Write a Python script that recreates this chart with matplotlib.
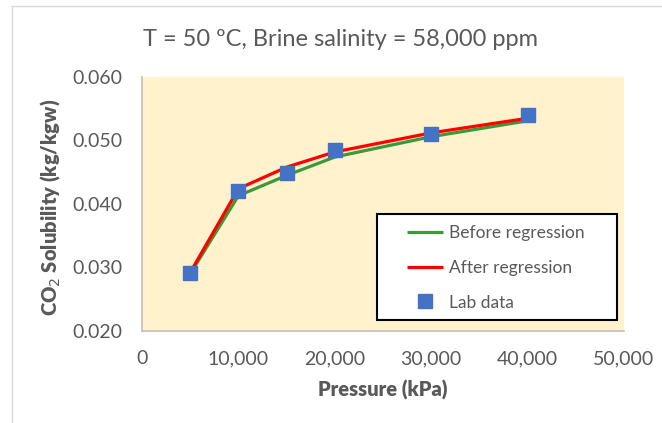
"""
CO2 solubility vs pressure at T = 50 C, brine salinity 58,000 ppm.
Recreated chart: model before/after regression plus lab data.
"""

import matplotlib.pyplot as plt
from matplotlib.lines import Line2D
from matplotlib.patches import Rectangle
from matplotlib.ticker import FuncFormatter

# Data
pressure_kpa = [5000, 10000, 15000, 20000, 30000, 40000]
before_regression = [0.0290, 0.0413, 0.0445, 0.0474, 0.0506, 0.0531]
after_regression = [0.0292, 0.0424, 0.0458, 0.0482, 0.0512, 0.0535]
lab_data = [0.0292, 0.0421, 0.0449, 0.0485, 0.0510, 0.0540]

x_ticks = [0, 10000, 20000, 30000, 40000, 50000]
y_ticks = [0.020, 0.030, 0.040, 0.050, 0.060]

GRAY_TEXT = "#595959"
plt.rcParams["font.family"] = ["Lato", "DejaVu Sans"]

fig = plt.figure(figsize=(6.62, 4.23), dpi=100)
ax = fig.add_axes([142 / 662, 1 - 331 / 423, 482 / 662, 254 / 423])
ax.set_facecolor("#FFF2CC")

ax.plot(pressure_kpa, before_regression, color="#3A9A3A", lw=2.3,
        label="Before regression", solid_capstyle="butt")
ax.plot(pressure_kpa, after_regression, color="#FF0000", lw=2.3,
        label="After regression", solid_capstyle="butt")
ax.plot(pressure_kpa, lab_data, ls="none", marker="s", ms=10,
        color="#4472C4", label="Lab data")

ax.set_xlim(0, 50000)
ax.set_ylim(0.020, 0.060)
ax.set_xticks(x_ticks)
ax.set_yticks(y_ticks)
ax.xaxis.set_major_formatter(FuncFormatter(lambda v, p: f"{v:,.0f}"))
ax.yaxis.set_major_formatter(FuncFormatter(lambda v, p: f"{v:.3f}"))
ax.tick_params(length=0, labelsize=14, colors=GRAY_TEXT)
ax.tick_params(axis="y", pad=14)
ax.tick_params(axis="x", pad=14)

for side in ["top", "right"]:
    ax.spines[side].set_visible(False)
for side in ["left", "bottom"]:
    ax.spines[side].set_color("#BFBFBF")
    ax.spines[side].set_linewidth(1.2)

ax.set_xlabel("Pressure (kPa)", fontsize=14.5, fontweight="heavy",
              color=GRAY_TEXT, labelpad=9)
fig.text(50 / 662, 1 - 207 / 423, "CO$_2$ Solubility (kg/kgw)", rotation=90,
         ha="center", va="center", fontsize=14.5, fontweight="heavy",
         color=GRAY_TEXT)
fig.text(340 / 662, 1 - 40 / 423, "T = 50 ºC, Brine salinity = 58,000 ppm",
         ha="center", va="center", fontsize=17, color=GRAY_TEXT)

# legend box drawn separately so its size matches the original
fig.add_artist(Rectangle((377 / 662, 1 - 320 / 423), 240 / 662, 106 / 423,
                         transform=fig.transFigure, facecolor="white",
                         edgecolor="black", lw=1.5, zorder=3))
handles, labels = ax.get_legend_handles_labels()
leg = fig.legend(handles, labels, loc="upper left",
                 bbox_to_anchor=(407 / 662, 1 - 225 / 423), fontsize=12.5,
                 frameon=False, handlelength=2.1, handletextpad=0.3,
                 borderpad=0, labelspacing=1.08, borderaxespad=0)
leg.set_zorder(4)
for t in leg.get_texts():
    t.set_color(GRAY_TEXT)

# light outer chart border (top and left)
fig.add_artist(Line2D([12 / 662, 1], [1 - 6 / 423, 1 - 6 / 423],
                      transform=fig.transFigure, color="#D9D9D9", lw=1))
fig.add_artist(Line2D([12 / 662, 12 / 662], [0, 1 - 6 / 423],
                      transform=fig.transFigure, color="#D9D9D9", lw=1))

fig.savefig("out.png", dpi=100)
